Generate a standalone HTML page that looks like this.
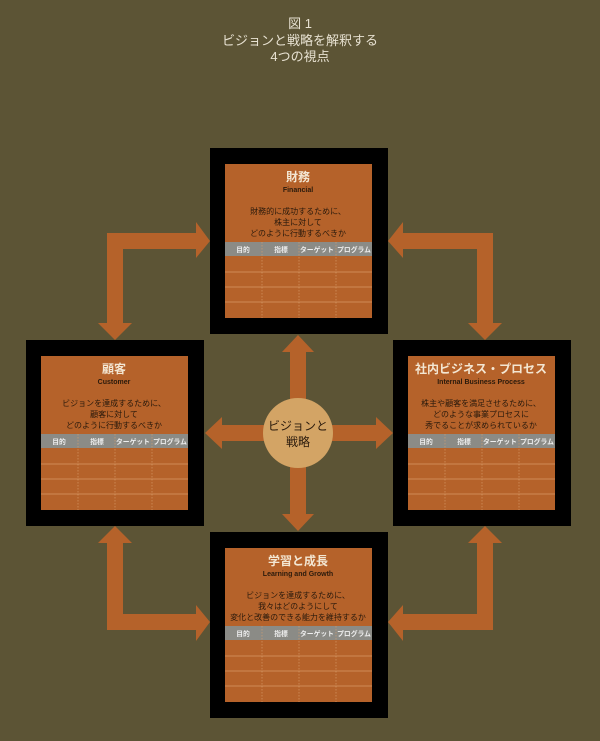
<!DOCTYPE html>
<html><head><meta charset="utf-8"><style>
body{margin:0;background:#5c5435}
svg{display:block}
text{font-family:"Liberation Sans","Noto Sans CJK JP",sans-serif;text-anchor:middle}
.t{fill:#f3e6d2;font-size:12px;font-weight:bold}
.e{fill:#2a1a0c;font-size:7px;font-weight:bold}
.d{fill:#2a1a0c;font-size:8px}
.h{fill:#eee;font-size:6.8px;font-weight:bold}
.ti{fill:#e8e2d2;font-size:13px}
</style></head><body>
<svg width="600" height="741" viewBox="0 0 600 741" xmlns="http://www.w3.org/2000/svg">
<defs>
<g id="tbl">
<rect x="0" y="78" width="147" height="14" fill="#8b8b86"/>
<g stroke="#d79a66" stroke-width="0.8">
<line x1="0" y1="108" x2="147" y2="108"/><line x1="0" y1="123" x2="147" y2="123"/><line x1="0" y1="138" x2="147" y2="138"/>
</g>
<g stroke="#d9a070" stroke-width="0.6" stroke-dasharray="1.5,1.5">
<line x1="37" y1="78" x2="37" y2="154"/><line x1="74" y1="78" x2="74" y2="154"/><line x1="111" y1="78" x2="111" y2="154"/>
</g>
<text class="h" x="18" y="88">目的</text><text class="h" x="56" y="88">指標</text><text class="h" x="92" y="88">ターゲット</text><text class="h" x="129" y="88">プログラム</text>
</g>
</defs>
<text class="ti" x="300" y="28">図 1</text>
<text class="ti" x="300" y="45">ビジョンと戦略を解釈する</text>
<text class="ti" x="300" y="61">4つの視点</text>

<g fill="#b5622a">
<rect x="290" y="350" width="16" height="166"/>
<polygon points="298,335 282,352 314,352"/>
<polygon points="298,531 282,514 314,514"/>
<rect x="220" y="425" width="158" height="16"/>
<polygon points="205,433 222,417 222,449"/>
<polygon points="393,433 376,417 376,449"/>
<polygon points="107,233 196,233 196,222 210,241 196,258 196,249 123,249 123,323 132,323 115,340 98,323 107,323"/>
<polygon points="493,233 403,233 403,222 388,241 403,258 403,249 477,249 477,323 468,323 485,340 502,323 493,323"/>
<polygon points="107,630 196,630 196,641 210,622 196,605 196,614 123,614 123,543 132,543 115,526 98,543 107,543"/>
<polygon points="493,630 403,630 403,641 388,622 403,605 403,614 477,614 477,543 468,543 485,526 502,543 493,543"/>
</g>
<circle cx="298" cy="433" r="35" fill="#d3a465"/>
<text x="298" y="430" style="font-size:12px;fill:#2a1a0c">ビジョンと</text>
<text x="298" y="446" style="font-size:12px;fill:#2a1a0c">戦略</text>

<rect x="210" y="148" width="178" height="186" fill="#000"/>
<g transform="translate(225,164)">
<rect width="147" height="154" fill="#b5622a"/>
<text class="t" x="73" y="17">財務</text><text class="e" x="73" y="28">Financial</text>
<text class="d" x="73" y="50">財務的に成功するために、</text><text class="d" x="73" y="61">株主に対して</text><text class="d" x="73" y="72">どのように行動するべきか</text>
<use href="#tbl"/></g>

<rect x="26" y="340" width="178" height="186" fill="#000"/>
<g transform="translate(41,356)">
<rect width="147" height="154" fill="#b5622a"/>
<text class="t" x="73" y="17">顧客</text><text class="e" x="73" y="28">Customer</text>
<text class="d" x="73" y="50">ビジョンを達成するために、</text><text class="d" x="73" y="61">顧客に対して</text><text class="d" x="73" y="72">どのように行動するべきか</text>
<use href="#tbl"/></g>

<rect x="393" y="340" width="178" height="186" fill="#000"/>
<g transform="translate(408,356)">
<rect width="147" height="154" fill="#b5622a"/>
<text class="t" x="73" y="17">社内ビジネス・プロセス</text><text class="e" x="73" y="28">Internal Business Process</text>
<text class="d" x="73" y="50">株主や顧客を満足させるために、</text><text class="d" x="73" y="61">どのような事業プロセスに</text><text class="d" x="73" y="72">秀でることが求められているか</text>
<use href="#tbl"/></g>

<rect x="210" y="532" width="178" height="186" fill="#000"/>
<g transform="translate(225,548)">
<rect width="147" height="154" fill="#b5622a"/>
<text class="t" x="73" y="17">学習と成長</text><text class="e" x="73" y="28">Learning and Growth</text>
<text class="d" x="73" y="50">ビジョンを達成するために、</text><text class="d" x="73" y="61">我々はどのようにして</text><text class="d" x="73" y="72">変化と改善のできる能力を維持するか</text>
<use href="#tbl"/></g>
</svg>
</body></html>
